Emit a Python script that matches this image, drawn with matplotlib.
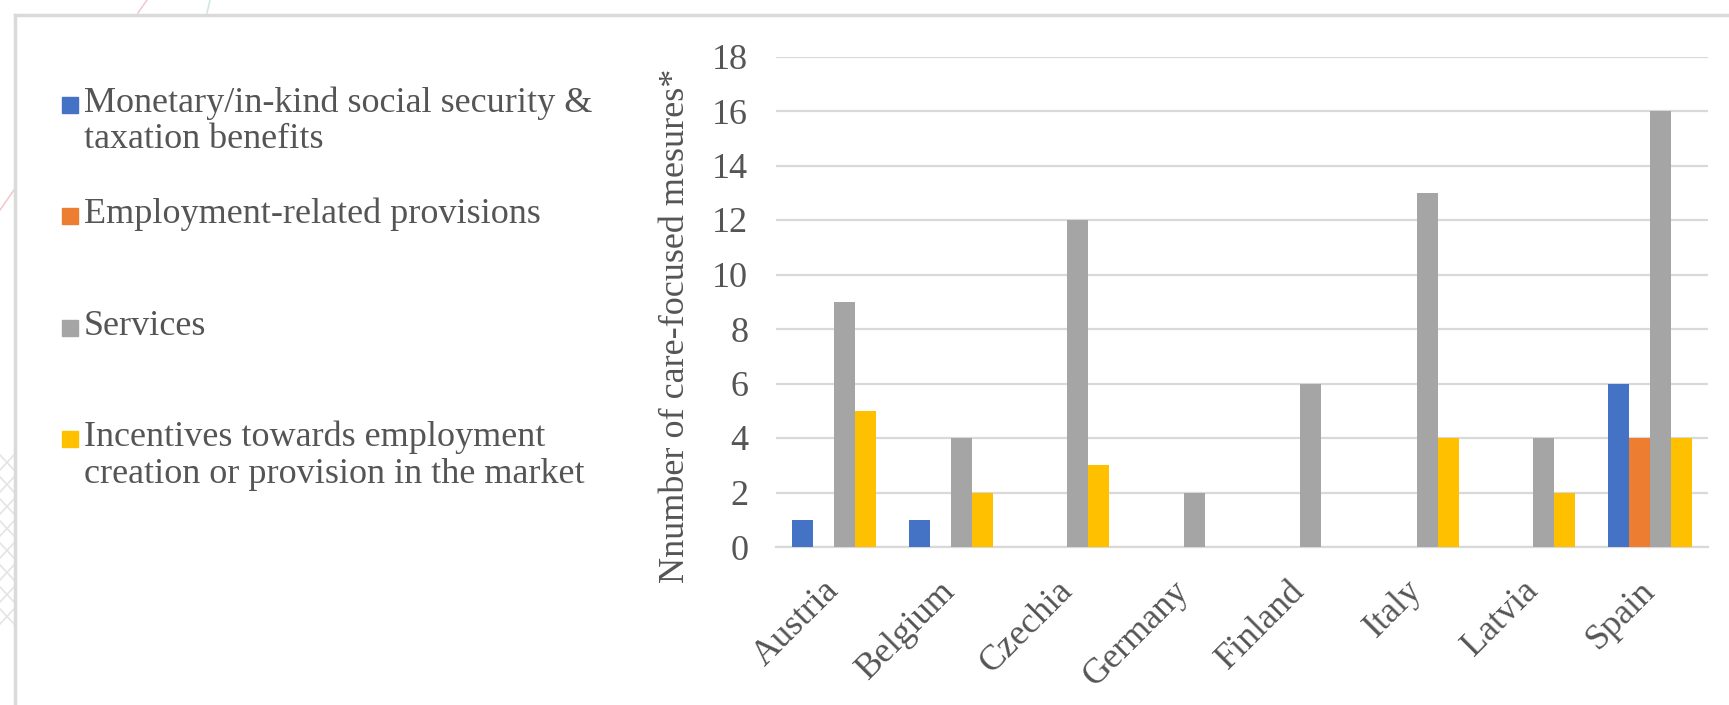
import numpy as np
import matplotlib.pyplot as plt
from matplotlib.lines import Line2D
from matplotlib.patches import Rectangle

countries = ["Austria", "Belgium", "Czechia", "Germany", "Finland", "Italy", "Latvia", "Spain"]
monetary = [1, 1, 0, 0, 0, 0, 0, 6]
employment = [0, 0, 0, 0, 0, 0, 0, 4]
services = [9, 4, 12, 2, 6, 13, 4, 16]
incentives = [5, 2, 3, 0, 0, 4, 2, 4]

series_labels = [
    ["Monetary/in-kind social security &", "taxation benefits"],
    ["Employment-related provisions"],
    ["Services"],
    ["Incentives towards employment", "creation or provision in the market"],
]
colors = ["#4472C4", "#ED7D31", "#A5A5A5", "#FFC000"]
y_label = "Nnumber of care-focused mesures*"

W, H = 1729, 705
TXT = "#555555"
GRID = "#d9d9d9"

plt.rcParams["font.family"] = ["Liberation Serif", "DejaVu Serif"]
plt.rcParams["font.size"] = 26


def fx(px):
    return px / W


def fy(py):
    return 1 - py / H


fig = plt.figure(figsize=(W / 100, H / 100), dpi=100)

# faint page decoration outside the frame
deco = [
    ((0, 210), (14, 190), "#f3c9cf"),
    ((147, 0), (138, 13), "#f3c9cf"),
    ((210, 0), (207, 13), "#cfe8e6"),
]
for k in range(8):
    deco.append(((0, 470 + k * 22), (14, 455 + k * 22), "#e4e4e4"))
    deco.append(((0, 455 + k * 22), (14, 470 + k * 22), "#e4e4e4"))
for (x0, y0), (x1, y1), c in deco:
    fig.add_artist(Line2D([fx(x0), fx(x1)], [fy(y0), fy(y1)], color=c, lw=1.2,
                          transform=fig.transFigure))

# page frame
fig.add_artist(Line2D([fx(15), 1], [fy(14.5), fy(14.5)], color="#dadada", lw=2.5,
                      transform=fig.transFigure))
fig.add_artist(Line2D([fx(15), fx(15)], [fy(14.5), 0], color="#dadada", lw=2.5,
                      transform=fig.transFigure))

ax = fig.add_axes([fx(776), fy(547), fx(1708) - fx(776), fy(56.5) - fy(547)])
x = np.arange(len(countries))
w = 0.18
for i, (vals, col) in enumerate(zip([monetary, employment, services, incentives], colors)):
    ax.bar(x + (i - 1.5) * w, vals, w, color=col, zorder=3)

ax.set_xlim(-0.5, len(countries) - 0.5)
ax.set_ylim(0, 18)
ax.set_yticks(range(0, 19, 2))
ax.yaxis.grid(True, color=GRID, lw=1.6, zorder=0)
ax.set_axisbelow(True)
for s in ["top", "right", "left"]:
    ax.spines[s].set_visible(False)
ax.spines["bottom"].set_color(GRID)
ax.spines["bottom"].set_linewidth(1.6)
ax.tick_params(length=0, colors=TXT, labelsize=26)
ax.tick_params(axis="y", pad=20)
ax.tick_params(axis="x", pad=28)
ax.set_xticks(x)
ax.set_xticklabels(countries, rotation=45, ha="right", va="center", rotation_mode="anchor")

ax.set_ylabel(y_label, color=TXT, fontsize=26, va="center")
ax.yaxis.set_label_coords((676 - 776) / 932, (547 - 325.5) / 490.5)

# legend on the left
baselines = [[112, 148], [223], [335], [446, 483]]
for lines, bl, col in zip(series_labels, baselines, colors):
    fig.add_artist(Rectangle((fx(62), fy(bl[0] + 1)), fx(16), 16 / H, color=col,
                             transform=fig.transFigure))
    for txt, b in zip(lines, bl):
        fig.text(fx(84), fy(b), txt, color=TXT, fontsize=26, va="baseline", ha="left")

fig.savefig("out.png", dpi=100)
